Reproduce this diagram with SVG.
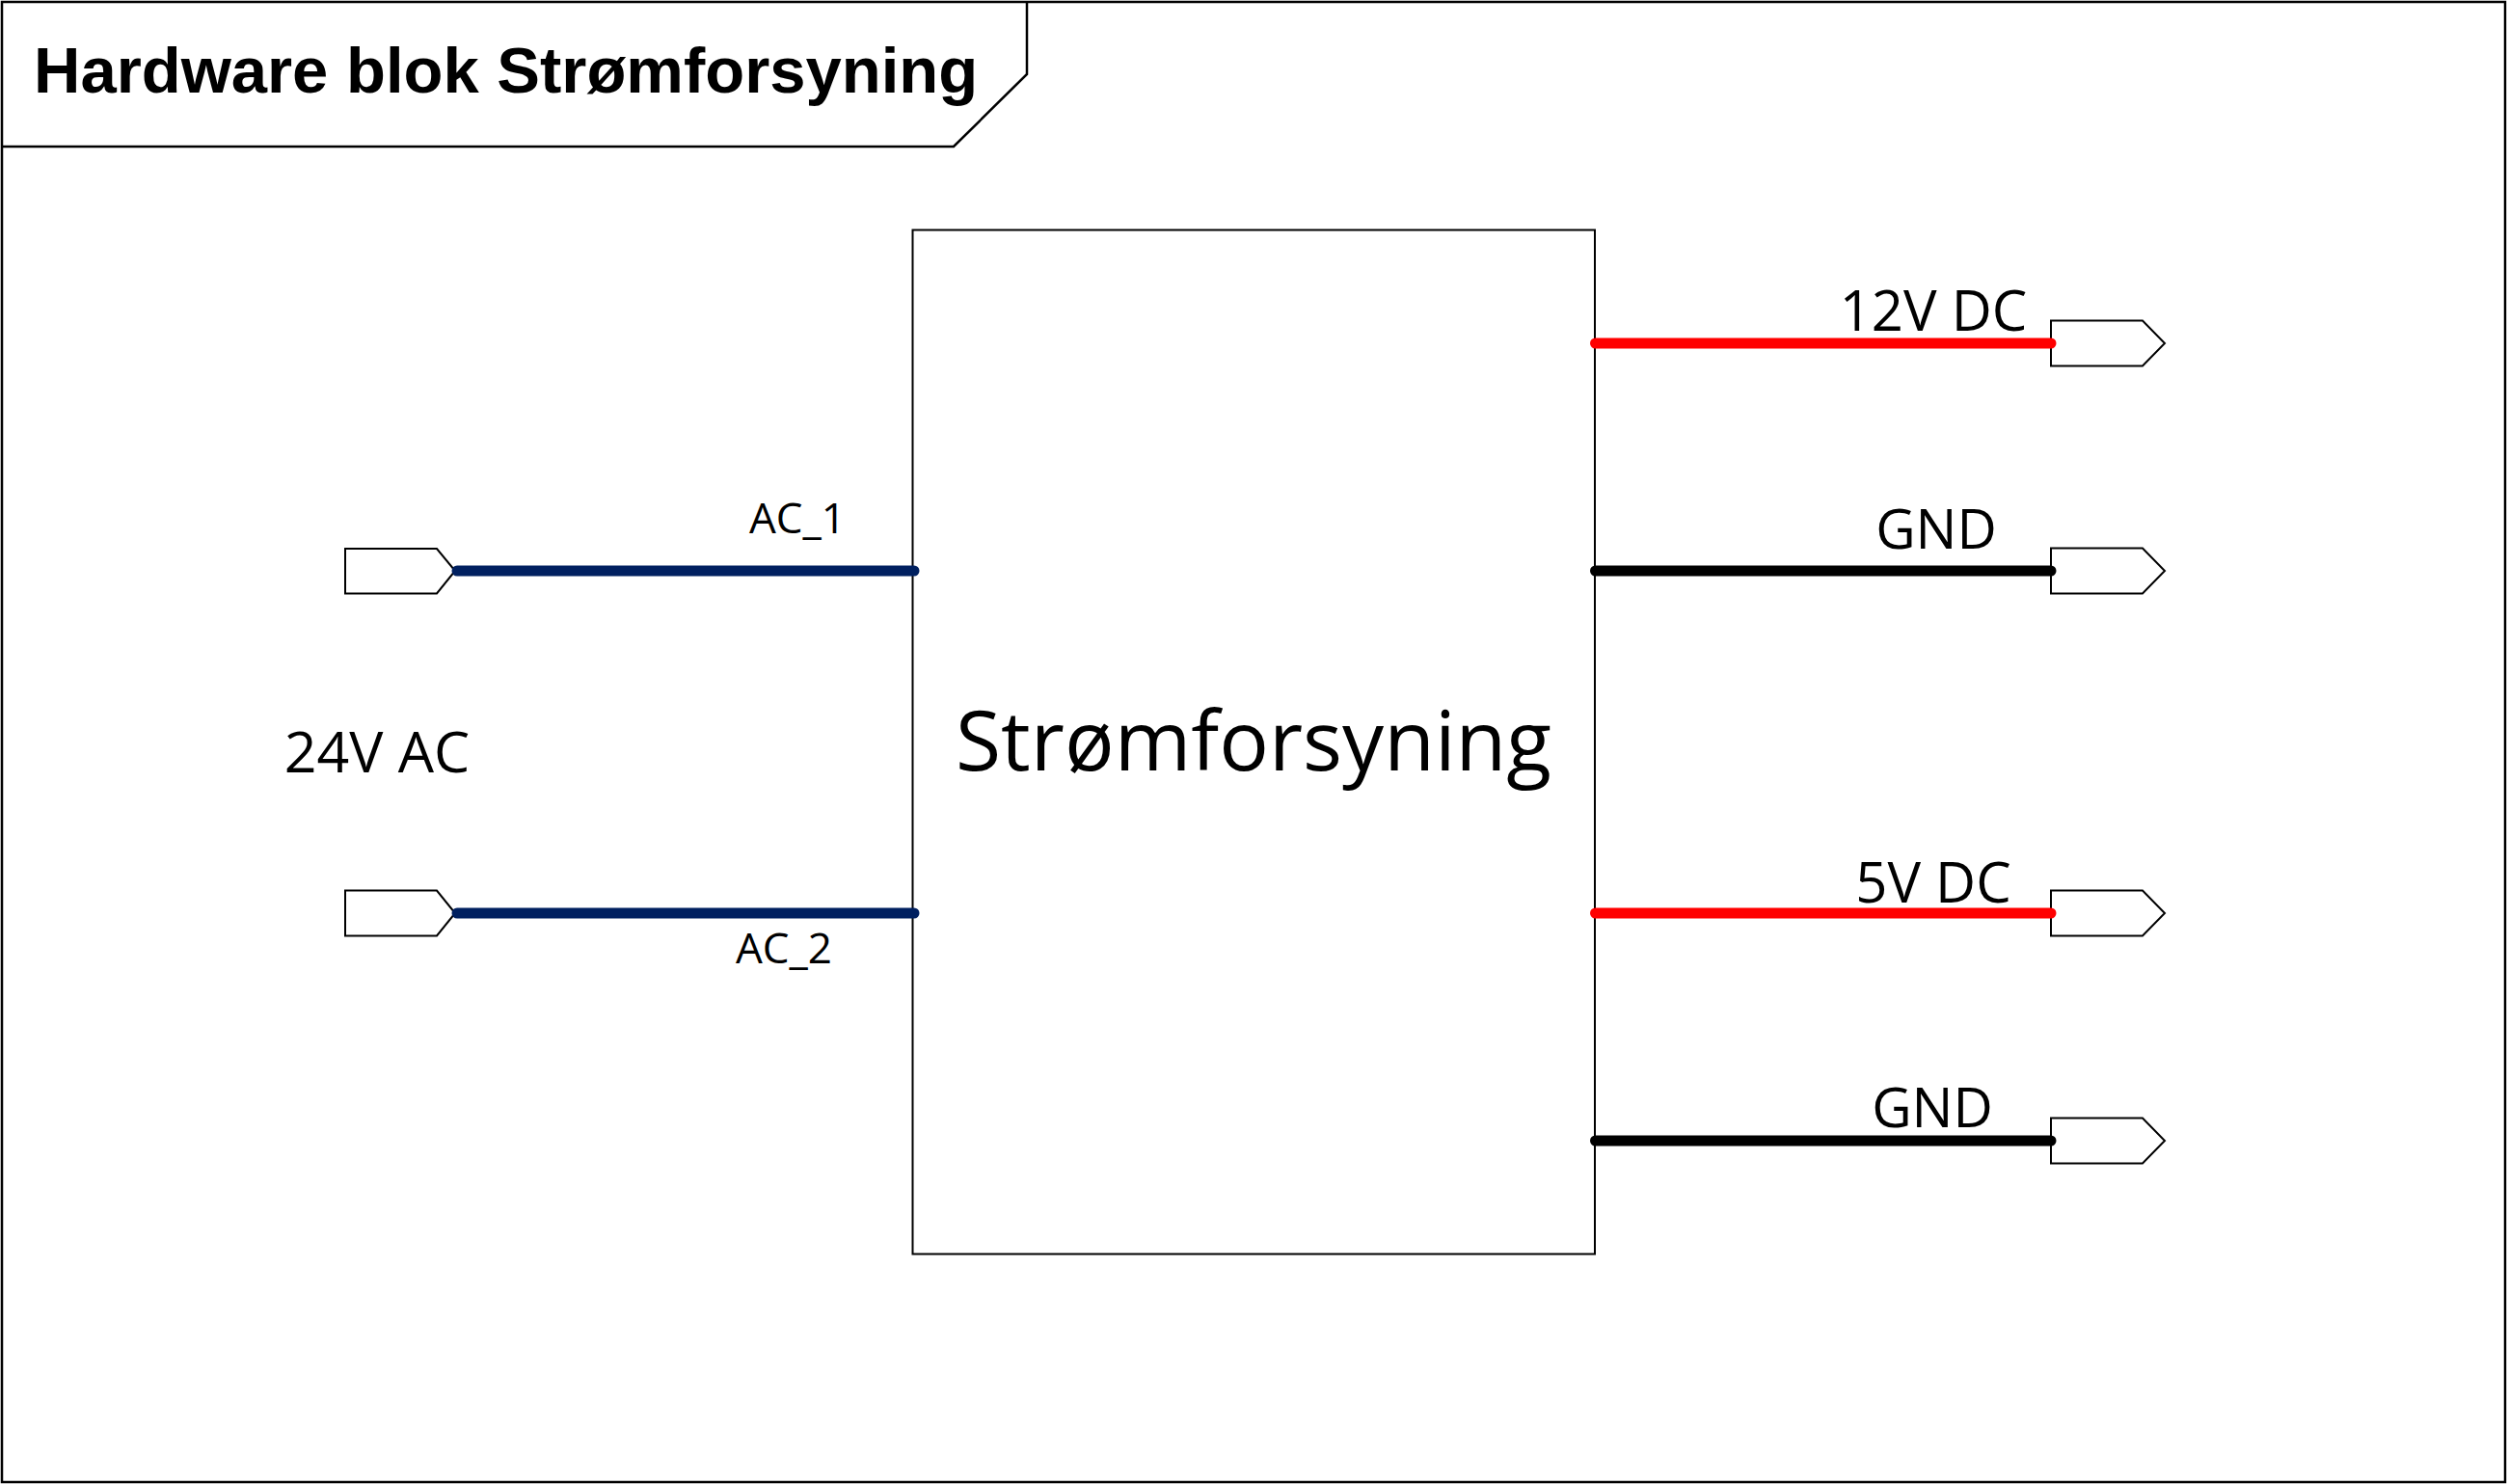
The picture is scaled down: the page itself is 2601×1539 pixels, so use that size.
<svg xmlns="http://www.w3.org/2000/svg" width="2601" height="1539" viewBox="0 0 2601 1539">
<style>
.frame{fill:none;stroke:#000;stroke-width:2.5}
.block{fill:#fff;stroke:#000;stroke-width:2}
.port{fill:#fff;stroke:#000;stroke-width:2}
.wire{fill:none;stroke-width:11;stroke-linecap:round}
.ac{stroke:#002060}
.dc{stroke:#ff0000}
.gnd{stroke:#000}
.lbl{font-family:"Open Sans","Noto Sans",sans-serif;fill:#000;text-anchor:middle}
.title{font-family:"Liberation Sans",Arial,sans-serif;font-weight:bold;font-size:67px;fill:#000}
</style>
<rect width="2601" height="1539" fill="#fff"/>
<g id="frame">
<rect class="frame" x="2" y="2" width="2596" height="1535"/>
<polyline class="frame" points="2,152 989,152 1065,77 1065,2"/>
<text class="title" x="35" y="96">Hardware blok Strømforsyning</text>
</g>
<g id="block-stromforsyning">
<rect class="block" x="946.5" y="238.5" width="707.5" height="1062"/>
<text class="lbl" x="1300" y="799" font-size="86">Strømforsyning</text>
</g>
<g id="input-24vac">
<text class="lbl" x="391" y="801" font-size="59">24V AC</text>
</g>
<g id="port-ac1">
<polygon class="port" points="358,569 453,569 472,592 453,615.5 358,615.5"/>
</g>
<g id="port-ac2">
<polygon class="port" points="358,923.5 453,923.5 472,947 453,970.5 358,970.5"/>
</g>
<g id="port-12vdc">
<polygon class="port" points="2127,332.5 2222,332.5 2245,356 2222,379.5 2127,379.5"/>
</g>
<g id="port-gnd1">
<polygon class="port" points="2127,568.5 2222,568.5 2245,592 2222,615.5 2127,615.5"/>
</g>
<g id="port-5vdc">
<polygon class="port" points="2127,923.5 2222,923.5 2245,947 2222,970.5 2127,970.5"/>
</g>
<g id="port-gnd2">
<polygon class="port" points="2127,1159.5 2222,1159.5 2245,1183 2222,1206.5 2127,1206.5"/>
</g>
<g id="connectors">
<line class="wire ac" x1="474" y1="592" x2="948" y2="592"/>
<line class="wire ac" x1="474" y1="947" x2="948" y2="947"/>
<line class="wire dc" x1="1654.5" y1="356" x2="2127" y2="356"/>
<line class="wire gnd" x1="1654.5" y1="592" x2="2127" y2="592"/>
<line class="wire dc" x1="1654.5" y1="947" x2="2127" y2="947"/>
<line class="wire gnd" x1="1654.5" y1="1183" x2="2127" y2="1183"/>
<text class="lbl" x="827" y="553" font-size="44">AC_1</text>
<text class="lbl" x="813" y="999" font-size="44">AC_2</text>
<text class="lbl" x="2005" y="343" font-size="58">12V DC</text>
<text class="lbl" x="2008" y="569" font-size="57">GND</text>
<text class="lbl" x="2005" y="936" font-size="58">5V DC</text>
<text class="lbl" x="2004" y="1169" font-size="57">GND</text>
</g>
</svg>
